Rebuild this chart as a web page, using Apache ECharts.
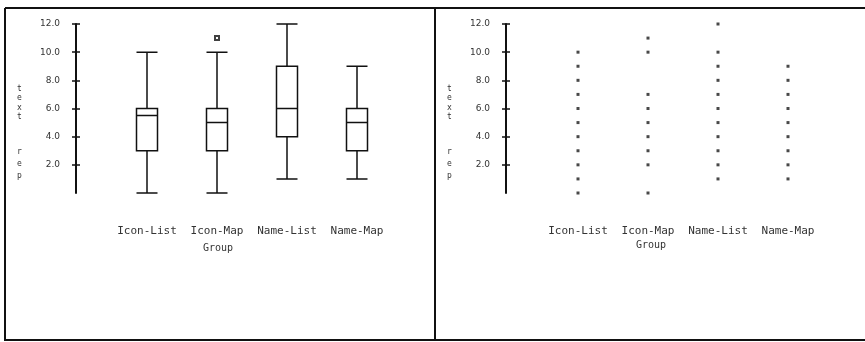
<!DOCTYPE html>
<html>
<head>
<meta charset="utf-8">
<style>
  html, body { margin: 0; padding: 0; background: #fff; }
  #chart { width: 865px; height: 342px; }
</style>
<script src="https://cdn.jsdelivr.net/npm/echarts@6/dist/echarts.min.js"></script>
</head>
<body>
<div id="chart"></div>
<script>
// Groups compared in both panels
const groups = ['Icon-List', 'Icon-Map', 'Name-List', 'Name-Map'];

// Five-number summaries per group (left panel)
const mins    = [0, 0, 1, 1];
const q1s     = [3, 3, 4, 3];
const medians = [5.5, 5, 6, 5];
const q3s     = [6, 6, 9, 6];
const maxs    = [10, 10, 12, 9];
// Outliers as [group index, value]
const outliers = [[1, 11]];

// Distinct text rep values observed per group (right panel)
const iconListValues = [0, 1, 2, 3, 4, 5, 6, 7, 8, 9, 10];
const iconMapValues  = [0, 2, 3, 4, 5, 6, 7, 10, 11];
const nameListValues = [1, 2, 3, 4, 5, 6, 7, 8, 9, 10, 12];
const nameMapValues  = [1, 2, 3, 4, 5, 6, 7, 8, 9];

// Y tick labels
const yTicks = [2, 4, 6, 8, 10, 12];

const ink = '#111';
const textInk = '#333';
const monoFont = '"DejaVu Sans Mono", monospace';

const boxData = groups.map((g, i) => [mins[i], q1s[i], medians[i], q3s[i], maxs[i]]);
const dotData = [iconListValues, iconMapValues, nameListValues, nameMapValues]
  .flatMap((vals, gi) => vals.map(v => [gi, v]));

function yAxes(gridIndex, offset) {
  const common = {
    type: 'value', gridIndex: gridIndex, min: 0, max: 12, interval: 2,
    position: 'left', offset: offset, splitLine: { show: false }
  };
  return [
    Object.assign({}, common, {
      axisLine: { show: true, lineStyle: { color: ink, width: 2 } },
      axisTick: { show: true, length: 4, customValues: yTicks, lineStyle: { color: ink, width: 1.5 } },
      axisLabel: {
        show: true, margin: 16, customValues: yTicks, color: textInk,
        fontSize: 9, fontFamily: 'DejaVu Sans',
        formatter: v => v.toFixed(1)
      }
    }),
    Object.assign({}, common, {
      axisLine: { show: false },
      axisTick: { show: true, inside: true, length: 4, customValues: yTicks, lineStyle: { color: ink, width: 1.5 } },
      axisLabel: { show: false }
    })
  ];
}

function xAxis(gridIndex) {
  return {
    type: 'category', gridIndex: gridIndex, data: groups, boundaryGap: true,
    axisLine: { show: false }, axisTick: { show: false },
    axisLabel: { interval: 0, hideOverlap: false, margin: 33, color: textInk, fontSize: 11, fontFamily: monoFont }
  };
}

// stacked y-axis title "text rep", one letter per line
function yTitle(x) {
  const font = '8px ' + monoFont;
  return [
    { type: 'text', left: x, top: 84, style: { text: 't\ne\nx\nt', fill: textInk, font: font, lineHeight: 9.5 } },
    { type: 'text', left: x, top: 146, style: { text: 'r\ne\np', fill: textInk, font: font, lineHeight: 12 } }
  ];
}

const chart = echarts.init(document.getElementById('chart'), null, { renderer: 'canvas' });

chart.setOption({
  backgroundColor: '#fff',
  animation: false,
  grid: [
    { left: 112, top: 24, width: 280, height: 169 },
    { left: 543, top: 24, width: 280, height: 169 }
  ],
  xAxis: [xAxis(0), xAxis(1)],
  yAxis: [].concat(yAxes(0, 36), yAxes(1, 37)),
  series: [
    {
      type: 'boxplot', xAxisIndex: 0, yAxisIndex: 0,
      data: boxData, boxWidth: [21, 21],
      itemStyle: { color: 'transparent', borderColor: ink, borderWidth: 1.5 }
    },
    {
      type: 'scatter', xAxisIndex: 0, yAxisIndex: 0,
      data: outliers, symbol: 'emptyRect', symbolSize: 4,
      itemStyle: { color: ink, borderColor: '#444', borderWidth: 1 }
    },
    {
      type: 'scatter', xAxisIndex: 1, yAxisIndex: 2,
      data: dotData, symbol: 'rect', symbolSize: 3,
      itemStyle: { color: '#1a1a1a' }
    }
  ],
  graphic: [
    // panel frame
    { type: 'line', shape: { x1: 5, y1: 8, x2: 865, y2: 8 }, style: { stroke: ink, lineWidth: 2 } },
    { type: 'line', shape: { x1: 5, y1: 340, x2: 865, y2: 340 }, style: { stroke: ink, lineWidth: 2 } },
    { type: 'line', shape: { x1: 5, y1: 8, x2: 5, y2: 341 }, style: { stroke: ink, lineWidth: 2 } },
    { type: 'line', shape: { x1: 435, y1: 8, x2: 435, y2: 341 }, style: { stroke: ink, lineWidth: 2 } },
    // x axis titles
    { type: 'text', left: 203, top: 243, style: { text: 'Group', fill: textInk, font: '10px ' + monoFont } },
    { type: 'text', left: 636, top: 240, style: { text: 'Group', fill: textInk, font: '10px ' + monoFont } }
  ].concat(yTitle(17), yTitle(447))
});
</script>
</body>
</html>
